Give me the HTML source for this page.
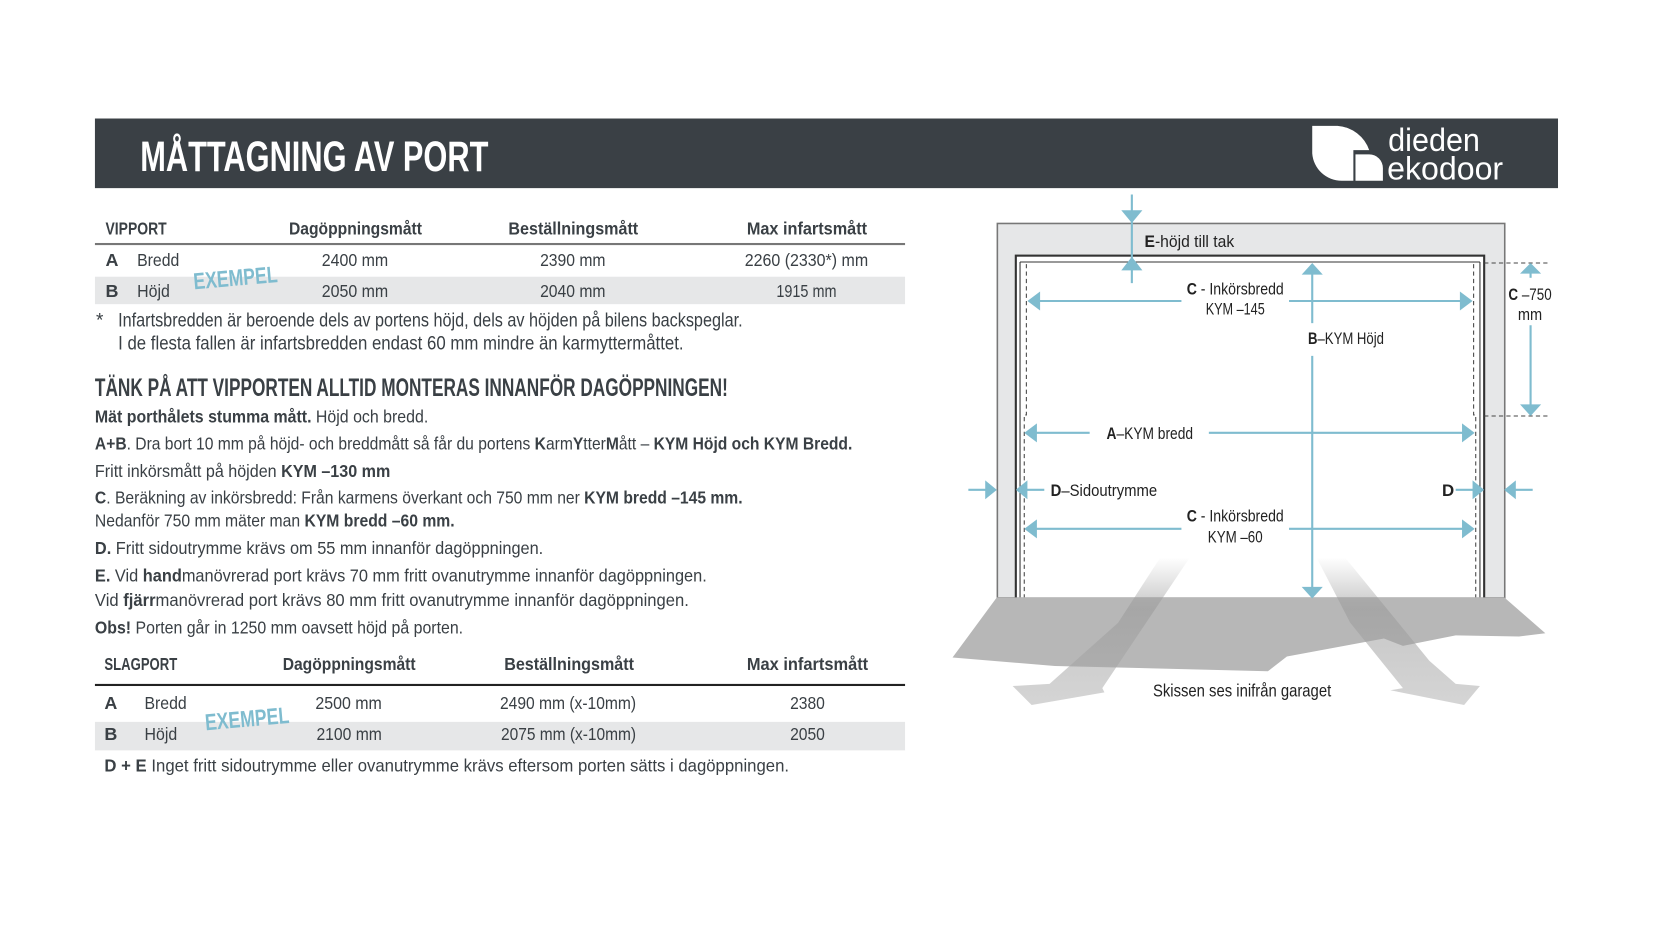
<!DOCTYPE html>
<html><head><meta charset="utf-8"><style>
html,body{margin:0;padding:0;background:#fff;width:1654px;height:929px;overflow:hidden}
svg{display:block}
text{font-family:"Liberation Sans Narrow","Liberation Sans","DejaVu Sans Condensed",sans-serif;fill:#3a4045}
.b{font-weight:bold}
.bl{fill:#7fbccf}
</style></head><body>
<svg width="1654" height="929" viewBox="0 0 1568 880" xmlns="http://www.w3.org/2000/svg">
<defs>
<linearGradient id="gl" x1="0" y1="0" x2="0" y2="1"><stop offset="0" stop-color="#999" stop-opacity="0"/><stop offset="0.35" stop-color="#999" stop-opacity="0.55"/><stop offset="1" stop-color="#aaa" stop-opacity="0.5"/></linearGradient>
</defs>
<!-- header -->
<rect x="90" y="112" width="1387" height="66" fill="#3a4045"/>
<text x="133" y="162" class="b" font-size="40" style="fill:#fff" textLength="330" lengthAdjust="spacingAndGlyphs">MÅTTAGNING AV PORT</text>
<path d="M1244,119 H1268 A34,34 0 0 1 1298,142 H1283 V171 H1272 A28,28 0 0 1 1244,145 Z" fill="#fff"/>
<path d="M1285,146 H1298 A13,13 0 0 1 1311,159 V171 H1285 Z" fill="#fff"/>
<text x="1316" y="143" font-size="31" style="fill:#fff" textLength="87" lengthAdjust="spacingAndGlyphs">dieden</text>
<text x="1315" y="170" font-size="31" style="fill:#fff" textLength="110" lengthAdjust="spacingAndGlyphs">ekodoor</text>

<!-- table 1 -->
<g font-size="17">
<text x="100" y="222" class="b" textLength="58" lengthAdjust="spacingAndGlyphs">VIPPORT</text>
<text x="274" y="222" class="b" textLength="126" lengthAdjust="spacingAndGlyphs">Dagöppningsmått</text>
<text x="482" y="222" class="b" textLength="123" lengthAdjust="spacingAndGlyphs">Beställningsmått</text>
<text x="708" y="222" class="b" textLength="114" lengthAdjust="spacingAndGlyphs">Max infartsmått</text>
<rect x="90" y="230" width="768" height="2" fill="#777"/>
<rect x="90" y="262" width="768" height="26" fill="#e6e7e8"/>
<text x="100" y="252" class="b">A</text>
<text x="130" y="252" textLength="40" lengthAdjust="spacingAndGlyphs">Bredd</text>
<text x="305" y="252" textLength="63" lengthAdjust="spacingAndGlyphs">2400 mm</text>
<text x="512" y="252" textLength="62" lengthAdjust="spacingAndGlyphs">2390 mm</text>
<text x="706" y="252" textLength="117" lengthAdjust="spacingAndGlyphs">2260 (2330*) mm</text>
<text x="100" y="281" class="b">B</text>
<text x="130" y="281" textLength="31" lengthAdjust="spacingAndGlyphs">Höjd</text>
<text x="305" y="281" textLength="63" lengthAdjust="spacingAndGlyphs">2050 mm</text>
<text x="512" y="281" textLength="62" lengthAdjust="spacingAndGlyphs">2040 mm</text>
<text x="736" y="281" textLength="57" lengthAdjust="spacingAndGlyphs">1915 mm</text>
</g>
<text x="184" y="274" class="b bl" font-size="22" transform="rotate(-5 184 274)" textLength="80" lengthAdjust="spacingAndGlyphs">EXEMPEL</text>

<g font-size="18">
<text x="91" y="309">*</text>
<text x="112" y="309" textLength="592" lengthAdjust="spacingAndGlyphs">Infartsbredden är beroende dels av portens höjd, dels av höjden på bilens backspeglar.</text>
<text x="112" y="331" textLength="536" lengthAdjust="spacingAndGlyphs">I de flesta fallen är infartsbredden endast 60 mm mindre än karmyttermåttet.</text>
</g>
<text x="90" y="375" class="b" font-size="24" textLength="600" lengthAdjust="spacingAndGlyphs">TÄNK PÅ ATT VIPPORTEN ALLTID MONTERAS INNANFÖR DAGÖPPNINGEN!</text>

<g font-size="17">
<text x="90" y="400" textLength="316" lengthAdjust="spacingAndGlyphs"><tspan class="b">Mät porthålets stumma mått.</tspan> Höjd och bredd.</text>
<text x="90" y="426" textLength="718" lengthAdjust="spacingAndGlyphs"><tspan class="b">A+B</tspan>. Dra bort 10 mm på höjd- och breddmått så får du portens <tspan class="b">K</tspan>arm<tspan class="b">Y</tspan>tter<tspan class="b">M</tspan>ått – <tspan class="b">KYM Höjd och KYM Bredd.</tspan></text>
<text x="90" y="452" textLength="280" lengthAdjust="spacingAndGlyphs">Fritt inkörsmått på höjden <tspan class="b">KYM –130 mm</tspan></text>
<text x="90" y="477" textLength="614" lengthAdjust="spacingAndGlyphs"><tspan class="b">C</tspan>. Beräkning av inkörsbredd: Från karmens överkant och 750 mm ner <tspan class="b">KYM bredd –145 mm.</tspan></text>
<text x="90" y="499" textLength="341" lengthAdjust="spacingAndGlyphs">Nedanför 750 mm mäter man <tspan class="b">KYM bredd –60 mm.</tspan></text>
<text x="90" y="525" textLength="425" lengthAdjust="spacingAndGlyphs"><tspan class="b">D.</tspan> Fritt sidoutrymme krävs om 55 mm innanför dagöppningen.</text>
<text x="90" y="551" textLength="580" lengthAdjust="spacingAndGlyphs"><tspan class="b">E.</tspan> Vid <tspan class="b">hand</tspan>manövrerad port krävs 70 mm fritt ovanutrymme innanför dagöppningen.</text>
<text x="90" y="574" textLength="563" lengthAdjust="spacingAndGlyphs">Vid <tspan class="b">fjärr</tspan>manövrerad port krävs 80 mm fritt ovanutrymme innanför dagöppningen.</text>
<text x="90" y="600" textLength="349" lengthAdjust="spacingAndGlyphs"><tspan class="b">Obs!</tspan> Porten går in 1250 mm oavsett höjd på porten.</text>
</g>

<!-- table 2 -->
<g font-size="17">
<text x="99" y="635" class="b" textLength="69" lengthAdjust="spacingAndGlyphs">SLAGPORT</text>
<text x="268" y="635" class="b" textLength="126" lengthAdjust="spacingAndGlyphs">Dagöppningsmått</text>
<text x="478" y="635" class="b" textLength="123" lengthAdjust="spacingAndGlyphs">Beställningsmått</text>
<text x="708" y="635" class="b" textLength="115" lengthAdjust="spacingAndGlyphs">Max infartsmått</text>
<rect x="90" y="648" width="768" height="2" fill="#222"/>
<rect x="90" y="684" width="768" height="27" fill="#e6e7e8"/>
<text x="99" y="672" class="b">A</text>
<text x="137" y="672" textLength="40" lengthAdjust="spacingAndGlyphs">Bredd</text>
<text x="299" y="672" textLength="63" lengthAdjust="spacingAndGlyphs">2500 mm</text>
<text x="474" y="672" textLength="129" lengthAdjust="spacingAndGlyphs">2490 mm (x-10mm)</text>
<text x="749" y="672" textLength="33" lengthAdjust="spacingAndGlyphs">2380</text>
<text x="99" y="701" class="b">B</text>
<text x="137" y="701" textLength="31" lengthAdjust="spacingAndGlyphs">Höjd</text>
<text x="300" y="701" textLength="62" lengthAdjust="spacingAndGlyphs">2100 mm</text>
<text x="475" y="701" textLength="128" lengthAdjust="spacingAndGlyphs">2075 mm (x-10mm)</text>
<text x="749" y="701" textLength="33" lengthAdjust="spacingAndGlyphs">2050</text>
<text x="99" y="731" textLength="649" lengthAdjust="spacingAndGlyphs"><tspan class="b">D + E</tspan> Inget fritt sidoutrymme eller ovanutrymme krävs eftersom porten sätts i dagöppningen.</text>
</g>
<text x="195" y="692" class="b bl" font-size="22" transform="rotate(-5 195 692)" textLength="80" lengthAdjust="spacingAndGlyphs">EXEMPEL</text>

<!-- diagram -->
<rect x="945.5" y="211.5" width="481" height="355" fill="#e6e7e8" stroke="#777" stroke-width="1.5"/>
<rect x="963" y="242" width="444" height="325" fill="#fff" stroke="#333" stroke-width="2"/>
<line x1="967" y1="248" x2="1403" y2="248" stroke="#333" stroke-width="1"/>
<line x1="967" y1="248" x2="967" y2="566" stroke="#333" stroke-width="1"/>
<line x1="1403" y1="248" x2="1403" y2="566" stroke="#333" stroke-width="1"/>
<g stroke="#444" stroke-width="1" stroke-dasharray="4,3" fill="none">
<path d="M973,250 V393 H971 V566"/>
<path d="M1397,250 V393 H1399 V566"/>
<line x1="1407" y1="249" x2="1470" y2="249"/>
<line x1="1407" y1="394" x2="1470" y2="394"/>
</g>
<!-- floor -->
<polygon points="945,566 1426,566 1465,600 1440,603 1380,602 1330,612 1312,605 1220,622 1202,636 1000,631 903,623" fill="#b7b7b7"/>
<polygon points="1100,528 1128,528 1045,652 1047,656 978,668 960,650 995,648 1060,590" fill="url(#gl)"/>
<polygon points="1248,528 1275,528 1355,626 1380,648 1403,650 1388,668 1318,654 1330,652 1280,590" fill="url(#gl)"/>
<text x="1093" y="660" font-size="17" style="fill:#222" textLength="169" lengthAdjust="spacingAndGlyphs">Skissen ses inifrån garaget</text>

<!-- blue dimension lines -->
<g stroke="#7fbccf" stroke-width="2" fill="none">
<line x1="1073" y1="184" x2="1073" y2="268"/>
<line x1="980" y1="285" x2="1120" y2="285"/><line x1="1222" y1="285" x2="1390" y2="285"/>
<line x1="1244" y1="255" x2="1244" y2="306"/><line x1="1244" y1="337" x2="1244" y2="562"/>
<line x1="978" y1="410" x2="1033" y2="410"/><line x1="1146" y1="410" x2="1393" y2="410"/>
<line x1="918" y1="464" x2="940" y2="464"/><line x1="968" y1="464" x2="990" y2="464"/>
<line x1="1380" y1="464" x2="1402" y2="464"/><line x1="1430" y1="464" x2="1453" y2="464"/>
<line x1="978" y1="501" x2="1120" y2="501"/><line x1="1222" y1="501" x2="1393" y2="501"/>
<line x1="1451" y1="254" x2="1451" y2="263"/><line x1="1451" y1="308" x2="1451" y2="390"/>
</g>
<g fill="#7fbccf">
<polygon points="1063,199 1083,199 1073,211"/>
<polygon points="1063,256 1083,256 1073,243"/>
<polygon points="974,285 986,276 986,294"/><polygon points="1396,285 1384,276 1384,294"/>
<polygon points="1244,249 1234,260 1254,260"/><polygon points="1244,567 1234,556 1254,556"/>
<polygon points="971,410 983,401 983,419"/><polygon points="1398,410 1386,401 1386,419"/>
<polygon points="945,464 934,455 934,473"/><polygon points="963,464 974,455 974,473"/>
<polygon points="1407,464 1396,455 1396,473"/><polygon points="1426,464 1437,455 1437,473"/>
<polygon points="971,501 983,492 983,510"/><polygon points="1398,501 1386,492 1386,510"/>
<polygon points="1451,249 1441,259 1461,259"/><polygon points="1451,394 1441,383 1461,383"/>
</g>
<g font-size="16" style="fill:#222">
<text x="1085" y="234" style="fill:#222" textLength="85" lengthAdjust="spacingAndGlyphs"><tspan class="b" style="fill:#222">E</tspan>-höjd till tak</text>
<text x="1125" y="279" style="fill:#222" textLength="92" lengthAdjust="spacingAndGlyphs"><tspan class="b" style="fill:#222">C</tspan> - Inkörsbredd</text>
<text x="1143" y="298" style="fill:#222" textLength="56" lengthAdjust="spacingAndGlyphs">KYM –145</text>
<text x="1240" y="326" style="fill:#222" textLength="72" lengthAdjust="spacingAndGlyphs"><tspan class="b" style="fill:#222">B</tspan>–KYM Höjd</text>
<text x="1049" y="416" style="fill:#222" textLength="82" lengthAdjust="spacingAndGlyphs"><tspan class="b" style="fill:#222">A</tspan>–KYM bredd</text>
<text x="996" y="470" style="fill:#222" textLength="101" lengthAdjust="spacingAndGlyphs"><tspan class="b" style="fill:#222">D</tspan>–Sidoutrymme</text>
<text x="1367" y="470" class="b" style="fill:#222">D</text>
<text x="1125" y="494" style="fill:#222" textLength="92" lengthAdjust="spacingAndGlyphs"><tspan class="b" style="fill:#222">C</tspan> - Inkörsbredd</text>
<text x="1145" y="514" style="fill:#222" textLength="52" lengthAdjust="spacingAndGlyphs">KYM –60</text>
<text x="1430" y="284" style="fill:#222" textLength="41" lengthAdjust="spacingAndGlyphs"><tspan class="b" style="fill:#222">C</tspan>  –750</text>
<text x="1439" y="303" style="fill:#222" textLength="23" lengthAdjust="spacingAndGlyphs">mm</text>
</g>
</svg>
</body></html>
